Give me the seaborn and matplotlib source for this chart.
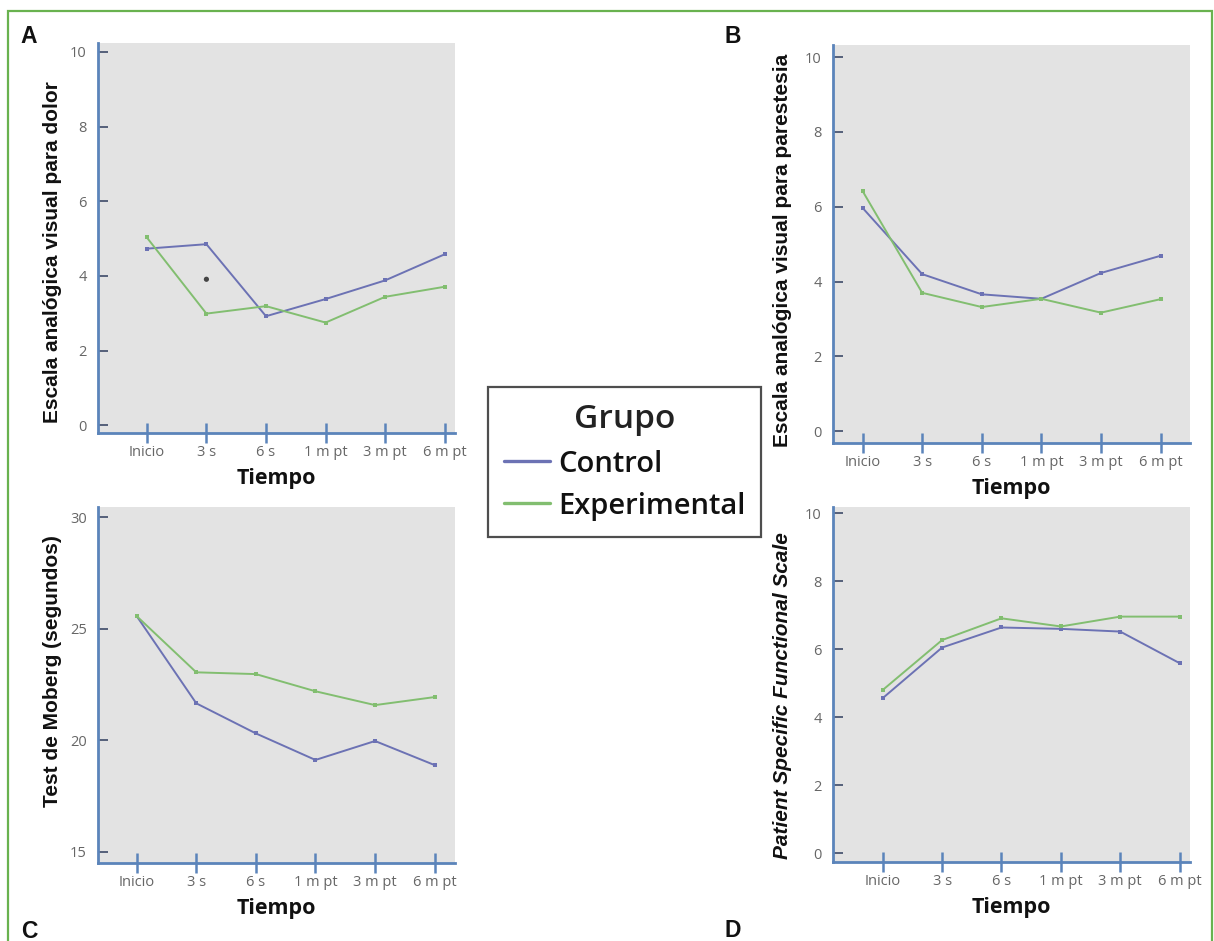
import numpy as np
import pandas as pd
import seaborn as sns
import matplotlib.pyplot as plt
from matplotlib.patches import Rectangle
from matplotlib.lines import Line2D

# data
tiempos = ['Inicio', '3 s', '6 s', '1 m pt', '3 m pt', '6 m pt']
grupos = ['Control', 'Experimental']

eva_dolor_control = [4.73, 4.85, 2.92, 3.38, 3.88, 4.58]
eva_dolor_exp = [5.03, 2.99, 3.19, 2.75, 3.44, 3.71]
eva_dolor_extra = [3.91]   # lone dot at "3 s" in panel A

eva_par_control = [5.97, 4.20, 3.66, 3.54, 4.23, 4.69]
eva_par_exp = [6.42, 3.70, 3.32, 3.54, 3.17, 3.53]

moberg_control = [25.57, 21.66, 20.31, 19.12, 19.97, 18.89]
moberg_exp = [25.57, 23.05, 22.97, 22.20, 21.58, 21.94]

psfs_control = [4.56, 6.05, 6.64, 6.60, 6.52, 5.59]
psfs_exp = [4.80, 6.27, 6.91, 6.67, 6.96, 6.96]

col_control = '#6c72b4'
col_exp = '#82be70'
col_spine = '#5b84ba'
col_bg = '#e3e3e3'

sns.set_theme(style='white')
plt.rcParams['font.family'] = ['Liberation Sans', 'DejaVu Sans']


def long_df(control, exp):
    rows = []
    for g, vals in zip(grupos, [control, exp]):
        for i, v in enumerate(vals):
            rows.append({'pos': i, 'Tiempo': tiempos[i], 'valor': v, 'Grupo': g})
    return pd.DataFrame(rows)


def panel(ax, control, exp, ylabel, yticks, xlim, ylim, ylab_x, ylab_y,
          italic=False):
    df = long_df(control, exp)
    sns.lineplot(data=df, x='pos', y='valor', hue='Grupo',
                 palette=[col_control, col_exp], marker='s', markersize=3.5,
                 markeredgewidth=0, linewidth=1.4, ax=ax, legend=False)
    ax.set_facecolor(col_bg)
    ax.set_xlim(*xlim)
    ax.set_ylim(*ylim)
    ax.set_xticks(range(len(tiempos)))
    ax.set_xticklabels(tiempos, family='Open Sans', fontsize=10.5, color='#666666')
    ax.set_yticks(yticks)
    ax.set_yticklabels([str(t) for t in yticks], family='Open Sans',
                       fontsize=10.5, color='#666666')
    ax.tick_params(axis='x', bottom=True, direction='inout', length=15,
                   width=1.8, color=col_spine, pad=1)
    ax.tick_params(axis='y', left=True, direction='in', length=7, width=1.4,
                   color='#55607a', pad=8)
    for s in ['top', 'right']:
        ax.spines[s].set_visible(False)
    for s in ['left', 'bottom']:
        ax.spines[s].set_color(col_spine)
        ax.spines[s].set_linewidth(2)
    ax.set_xlabel('Tiempo', family='Open Sans', fontweight='bold', fontsize=15.5,
                  color='#111111', labelpad=6)
    ax.set_ylabel(ylabel, fontweight='bold', fontsize=15, color='#111111',
                  style='italic' if italic else 'normal')
    ax.yaxis.set_label_coords(ylab_x, ylab_y)


fig = plt.figure(figsize=(12.14, 9.41), dpi=100)

ax_a = fig.add_axes([0.0807, 0.5398, 0.294, 0.4145])
ax_b = fig.add_axes([0.686, 0.529, 0.294, 0.423])
ax_c = fig.add_axes([0.0807, 0.0829, 0.294, 0.378])
ax_d = fig.add_axes([0.686, 0.084, 0.294, 0.377])

panel(ax_a, eva_dolor_control, eva_dolor_exp,
      'Escala analógica visual para dolor', [0, 2, 4, 6, 8, 10],
      (-0.82, 5.17), (-0.21, 10.24), -0.10, 0.464)
sns.scatterplot(x=[1], y=eva_dolor_extra, color='#444444', s=14,
                edgecolor='none', ax=ax_a, legend=False)

panel(ax_b, eva_par_control, eva_par_exp,
      'Escala analógica visual para parestesia', [0, 2, 4, 6, 8, 10],
      (-0.5, 5.49), (-0.32, 10.32), -0.115, 0.485)

panel(ax_c, moberg_control, moberg_exp,
      'Test de Moberg (segundos)', [15, 20, 25, 30],
      (-0.65, 5.34), (14.5, 30.45), -0.10, 0.539)

panel(ax_d, psfs_control, psfs_exp,
      'Patient Specific Functional Scale', [0, 2, 4, 6, 8, 10],
      (-0.84, 5.17), (-0.26, 10.18), -0.115, 0.47, italic=True)

# panel letters
for txt, x, y in [('A', 0.017, 0.954), ('B', 0.597, 0.954),
                  ('C', 0.017, 0.003), ('D', 0.597, 0.004)]:
    fig.text(x, y, txt, fontsize=16.5, fontweight='bold', color='#111111')

# shared legend
handles = [Line2D([], [], color=col_control, lw=2.4),
           Line2D([], [], color=col_exp, lw=2.4)]
leg = fig.legend(handles, grupos, title='Grupo', loc='center',
                 bbox_to_anchor=(0.5144, 0.509), frameon=True, fancybox=False,
                 edgecolor='#222222', handlelength=1.6, handletextpad=0.25,
                 borderpad=0.55, labelspacing=0.45,
                 prop={'family': 'Open Sans', 'weight': 'semibold', 'size': 21})
leg.get_title().set_fontproperties({'family': 'Open Sans', 'weight': 'semibold',
                                    'size': 24})
leg.get_title().set_color('#222222')
for t in leg.get_texts():
    t.set_color('#111111')
leg.get_frame().set_linewidth(1.6)

# green frame around the figure
fig.patches.append(Rectangle((0.0066, -0.01), 0.9915, 0.998,
                             transform=fig.transFigure, fill=False,
                             edgecolor='#69b24f', linewidth=1.6))

fig.savefig('out.png', dpi=100)
